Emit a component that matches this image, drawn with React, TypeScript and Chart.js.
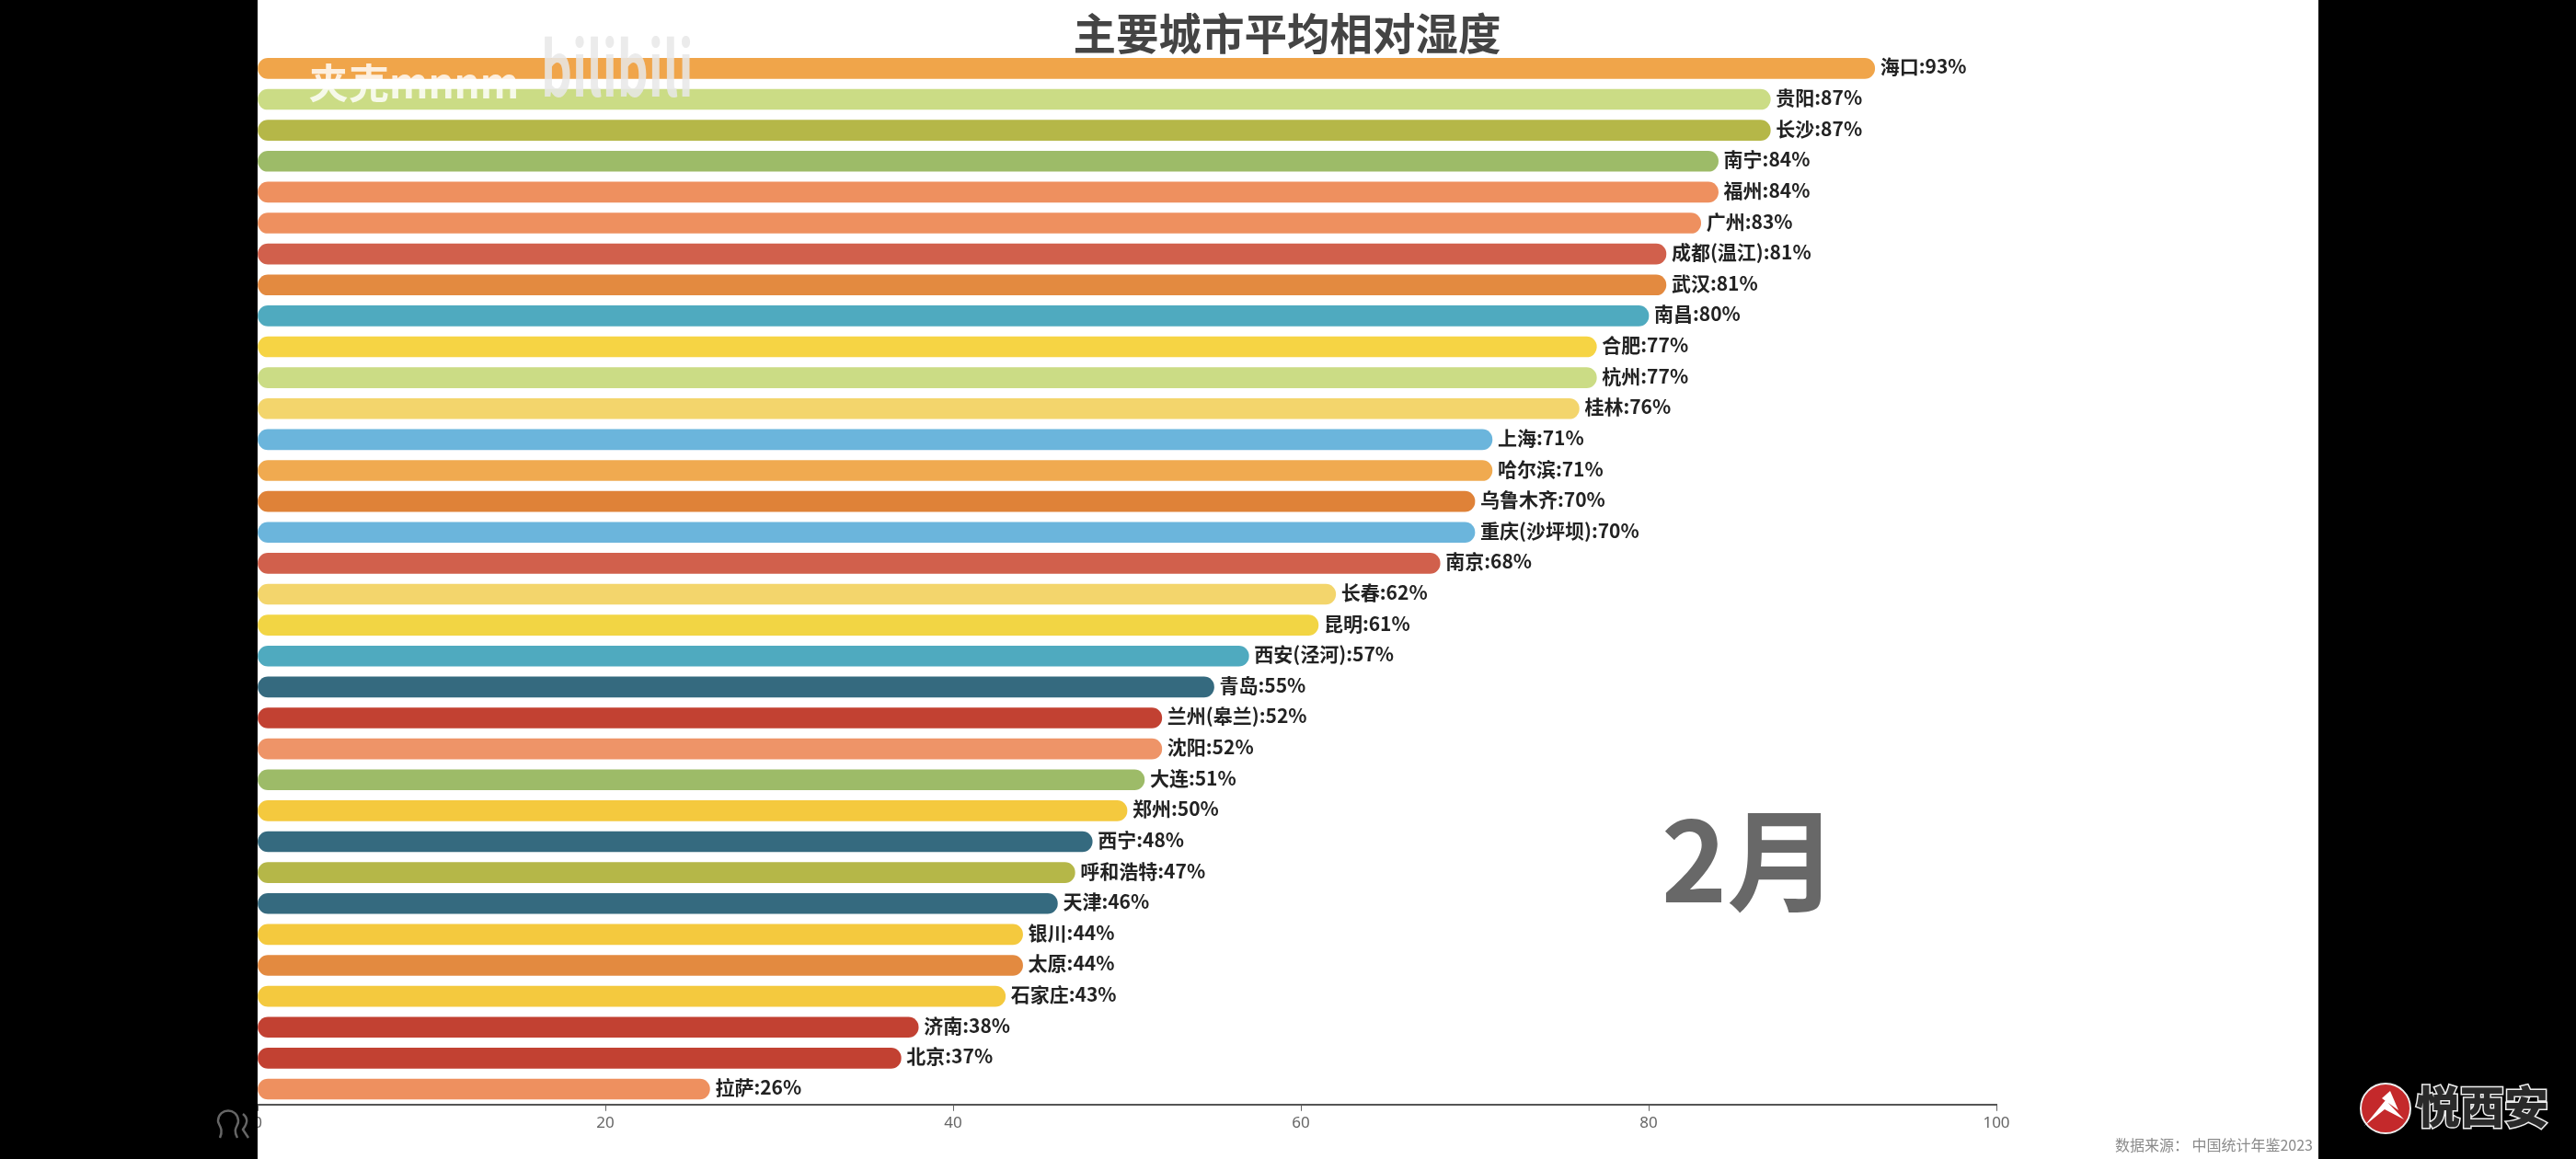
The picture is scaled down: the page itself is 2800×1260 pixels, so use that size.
import React, { useEffect, useRef } from "react";
import { Chart, registerables } from "chart.js";

Chart.register(...registerables);

const cities = ["海口","贵阳","长沙","南宁","福州","广州","成都(温江)","武汉","南昌","合肥","杭州","桂林","上海","哈尔滨","乌鲁木齐","重庆(沙坪坝)","南京","长春","昆明","西安(泾河)","青岛","兰州(皋兰)","沈阳","大连","郑州","西宁","呼和浩特","天津","银川","太原","石家庄","济南","北京","拉萨"];
const humidity = [93,87,87,84,84,83,81,81,80,77,77,76,71,71,70,70,68,62,61,57,55,52,52,51,50,48,47,46,44,44,43,38,37,26];
const barColors = ["#F0A54A","#CBDC85","#B5B748","#9DBB68","#EE905F","#EE905F","#D1604C","#E38A40","#4FAABF","#F6D444","#CBDC85","#F3D56C","#6BB5DC","#F0AA50","#DF8238","#6BB5DC","#D1604C","#F3D56C","#F2D544","#4FAABF","#356A7F","#C24132","#EE9468","#9DBB68","#F4C93E","#356A7F","#B5B748","#356A7F","#F4C93E","#E38A40","#F4C93E","#C24132","#C24132","#EE905F"];
const titleText = "主要城市平均相对湿度";
const monthText = "2月";
const sourceText = "数据来源： 中国统计年鉴2023";
const uploaderText = "夹克mnnm";
const siteLogoText = "bilibili";
const brandText = "悦西安";

const CJK = '"Noto Sans CJK SC", "Noto Sans", sans-serif';

const overlay = {
  id: "overlay",
  afterDatasetsDraw(chart: any) {
    const { ctx, scales } = chart;
    ctx.save();
    ctx.textBaseline = "middle";
    ctx.textAlign = "left";
    ctx.font = `bold 21px ${CJK}`;
    ctx.fillStyle = "#222222";
    humidity.forEach((v, i) => {
      ctx.fillText(`${cities[i]}:${v}%`, scales.x.getPixelForValue(v) + 6, scales.y.getPixelForValue(i) - 2);
    });
    ctx.restore();
  },
  afterDraw(chart: any) {
    const { ctx, width, height } = chart;
    ctx.save();
    // video side bars
    ctx.fillStyle = "#000000";
    ctx.fillRect(0, 0, 280, height);
    ctx.fillRect(2520, 0, width - 2520, height);

    // title
    ctx.textBaseline = "middle";
    ctx.textAlign = "center";
    ctx.fillStyle = "#444444";
    ctx.font = `bold 46.5px ${CJK}`;
    ctx.fillText(titleText, 1399, 36);

    // month
    ctx.fillStyle = "#686868";
    ctx.font = `bold 121px ${CJK}`;
    ctx.fillText(monthText, 1902, 935);

    // source
    ctx.fillStyle = "#8a8a8a";
    ctx.font = `16px ${CJK}`;
    ctx.textAlign = "right";
    ctx.fillText(sourceText, 2514, 1245);

    // uploader watermark
    ctx.textAlign = "left";
    ctx.fillStyle = "rgba(255,255,255,0.82)";
    ctx.font = `bold 44px ${CJK}`;
    ctx.fillText(uploaderText, 335, 90);
    ctx.save();
    ctx.translate(588, 105);
    ctx.scale(1.1, 1.7);
    ctx.textBaseline = "alphabetic";
    ctx.fillStyle = "rgba(232,232,232,0.85)";
    ctx.font = `bold 48px ${CJK}`;
    ctx.fillText(siteLogoText, 0, 0);
    ctx.restore();

    // side icon
    ctx.strokeStyle = "#666666";
    ctx.lineWidth = 2.5;
    ctx.beginPath();
    ctx.moveTo(239, 1237);
    ctx.bezierCurveTo(244, 1226, 236, 1222, 237, 1218);
    ctx.bezierCurveTo(238, 1204, 258, 1204, 259, 1218);
    ctx.bezierCurveTo(260, 1224, 252, 1226, 258, 1237);
    ctx.moveTo(264, 1211);
    ctx.bezierCurveTo(273, 1218, 265, 1226, 264, 1228);
    ctx.lineTo(270, 1237);
    ctx.stroke();

    // brand logo
    ctx.fillStyle = "#C4292B";
    ctx.strokeStyle = "#eeeeee";
    ctx.lineWidth = 2;
    ctx.beginPath();
    ctx.ellipse(2593, 1205, 27, 27, 0, 0, Math.PI * 2);
    ctx.fill();
    ctx.stroke();
    ctx.fillStyle = "#ffffff";
    ctx.beginPath();
    ctx.moveTo(2570, 1224);
    ctx.lineTo(2593, 1196);
    ctx.lineTo(2613, 1217);
    ctx.lineTo(2592, 1206);
    ctx.closePath();
    ctx.moveTo(2589, 1194);
    ctx.lineTo(2598, 1186);
    ctx.lineTo(2607, 1207);
    ctx.closePath();
    ctx.fill();
    ctx.textAlign = "left";
    ctx.font = `900 48px ${CJK}`;
    ctx.lineWidth = 3;
    ctx.strokeStyle = "#eeeeee";
    ctx.fillStyle = "#2a2a2a";
    ctx.strokeText(brandText, 2626, 1203);
    ctx.fillText(brandText, 2626, 1203);
    ctx.restore();
  },
};

export default function App() {
  const ref = useRef<HTMLCanvasElement>(null);
  useEffect(() => {
    const chart = new Chart(ref.current as HTMLCanvasElement, {
      type: "bar",
      data: {
        labels: cities,
        datasets: [
          {
            data: humidity,
            backgroundColor: barColors,
            barThickness: 22,
            borderRadius: 11,
            borderSkipped: false,
          },
        ],
      },
      options: {
        indexAxis: "y",
        responsive: false,
        animation: false,
        layout: { padding: { left: 280, right: 630, top: 57.6, bottom: 29.2 } },
        plugins: { legend: { display: false }, tooltip: { enabled: false }, title: { display: false } },
        scales: {
          x: {
            min: 0,
            max: 100,
            afterFit: (s: any) => {
              s.height = 30;
            },
            grid: {
              display: true,
              drawOnChartArea: false,
              drawTicks: true,
              tickLength: 7,
              color: "#666666",
              lineWidth: 1,
            },
            border: { display: true, color: "#555555", width: 2 },
            ticks: {
              stepSize: 20,
              maxRotation: 0,
              padding: 3,
              color: "#666666",
              font: { family: "Noto Sans", size: 17 },
            },
          },
          y: { display: false },
        },
      },
      plugins: [overlay],
    } as any);
    return () => chart.destroy();
  }, []);
  return (
    <div style={{ position: "absolute", left: 0, top: 0, width: 2800, height: 1260, background: "#ffffff" }}>
      <canvas ref={ref} width={2800} height={1260} style={{ display: "block" }} />
    </div>
  );
}
